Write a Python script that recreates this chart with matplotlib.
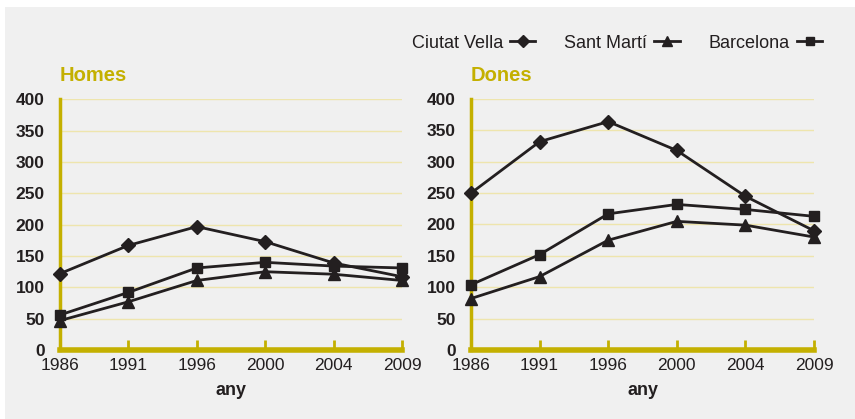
import matplotlib.pyplot as plt
from matplotlib.patches import Rectangle

# dades
anys = ['1986', '1991', '1996', '2000', '2004', '2009']
homes_ciutat_vella = [122, 167, 197, 173, 139, 117]
homes_sant_marti = [47, 77, 111, 125, 121, 111]
homes_barcelona = [56, 92, 131, 140, 134, 131]
dones_ciutat_vella = [250, 332, 364, 318, 245, 190]
dones_sant_marti = [82, 117, 175, 205, 199, 180]
dones_barcelona = [104, 152, 217, 232, 224, 213]
series_noms = ['Ciutat Vella', 'Sant Martí', 'Barcelona']
marcadors = ['D', '^', 's']

OR = '#c4b000'
GRID = '#eee5ad'
FONS = '#f0f0f0'
NEGRE = '#231f20'
plt.rcParams['font.family'] = ['Liberation Sans', 'DejaVu Sans']

fig = plt.figure(figsize=(8.55, 4.19), dpi=100)
fig.patch.set_facecolor('white')
fig.patches.append(Rectangle((5 / 855, 0), 1, 1 - 7 / 419, transform=fig.transFigure,
                             facecolor=FONS, edgecolor='none', zorder=-10))

ax1 = fig.add_axes([60 / 855, 69 / 419, 342 / 855, 250.5 / 419])
ax2 = fig.add_axes([471 / 855, 69 / 419, 343 / 855, 251 / 419])

dades = [
    (ax1, 'Homes', [homes_ciutat_vella, homes_sant_marti, homes_barcelona]),
    (ax2, 'Dones', [dones_ciutat_vella, dones_sant_marti, dones_barcelona]),
]

x = list(range(len(anys)))
for ax, titol, valors in dades:
    ax.set_facecolor('none')
    for nom, m, v in zip(series_noms, marcadors, valors):
        ms = 7.5 if m == 's' else (7 if m == 'D' else 8)
        ax.plot(x, v, color=NEGRE, lw=2, marker=m, ms=ms, label=nom,
                clip_on=False, zorder=5)
    ax.set_xlim(0, 5)
    ax.set_ylim(0, 400)
    ax.set_yticks(range(0, 401, 50))
    ax.set_xticks(x)
    ax.set_xticklabels(anys, fontsize=12.5)
    for lab in ax.get_yticklabels():
        lab.set_fontweight('bold')
        lab.set_fontsize(12.5)
    ax.grid(axis='y', color=GRID, lw=1)
    ax.set_axisbelow(True)
    for s in ['top', 'right']:
        ax.spines[s].set_visible(False)
    ax.spines['left'].set_color(OR)
    ax.spines['left'].set_linewidth(2.5)
    ax.spines['bottom'].set_color(OR)
    ax.spines['bottom'].set_linewidth(4)
    ax.tick_params(axis='x', direction='in', length=7, width=2, color=OR, pad=6,
                   labelcolor=NEGRE)
    ax.tick_params(axis='y', length=0, pad=11, labelcolor=NEGRE)
    ax.set_xlabel('any', fontsize=13, fontweight='bold', labelpad=6, color=NEGRE)
    ax.text(0, 1.095, titol, transform=ax.transAxes, color=OR, fontsize=14.5,
            fontweight='bold', va='center', ha='left')

h, l = ax1.get_legend_handles_labels()
fig.legend(h, l, loc='center', bbox_to_anchor=(617 / 855, 1 - 43 / 419), ncol=3,
           frameon=False, markerfirst=False, fontsize=13, handlelength=1.4,
           columnspacing=1.6, handletextpad=0.4, labelcolor=NEGRE, markerscale=0.85)

fig.savefig('out.png', dpi=100, facecolor=fig.get_facecolor())
